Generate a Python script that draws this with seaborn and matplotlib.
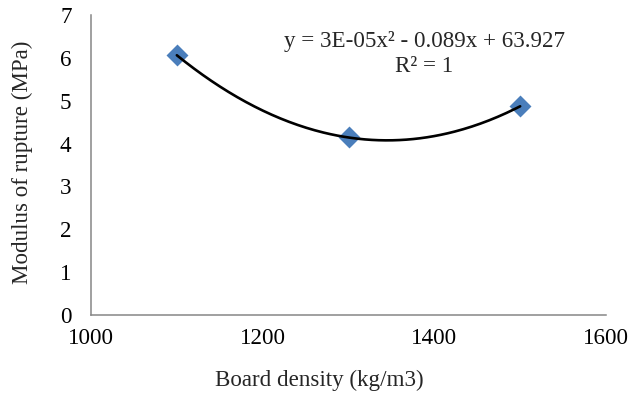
import numpy as np
import pandas as pd
import matplotlib
matplotlib.use("Agg")
import matplotlib.pyplot as plt
import seaborn as sns

# Board density vs modulus of rupture
density = [1100, 1300, 1500]
mor = [6.061, 4.142, 4.870]
x_ticks = [1000, 1200, 1400, 1600]
y_ticks = [0, 1, 2, 3, 4, 5, 6, 7]
equation = "y = 3E-05x\u00b2 - 0.089x + 63.927"
r_squared = "R\u00b2 = 1"

sns.set_theme(style="white")
plt.rcParams["font.family"] = ["Liberation Serif", "DejaVu Serif"]
FS = 16.6

df = pd.DataFrame({"density": density, "mor": mor})

# second-order polynomial trendline through the measurements
coef = np.polyfit(df["density"], df["mor"], 2)
xs = np.linspace(min(density), max(density), 200)
trend = pd.DataFrame({"density": xs, "mor": np.polyval(coef, xs)})

fig = plt.figure(figsize=(6.32, 3.96), dpi=100)
ax = fig.add_axes([91 / 632, 81 / 396, 515 / 632, 300 / 396])

sns.lineplot(data=trend, x="density", y="mor", ax=ax, color="black",
             linewidth=1.9, zorder=3)
sns.scatterplot(data=df, x="density", y="mor", ax=ax, marker="D", s=125,
                color="#4A7EBB", edgecolor="#4A7EBB", linewidth=0, zorder=2)

ax.set_xlim(1000, 1600)
ax.set_ylim(0, 7)
ax.set_xticks(x_ticks)
ax.set_yticks(y_ticks)
ax.tick_params(axis="both", length=0, labelsize=FS, colors="black")
ax.tick_params(axis="x", pad=9)
ax.tick_params(axis="y", pad=14)

for side in ("top", "right"):
    ax.spines[side].set_visible(False)
for side in ("left", "bottom"):
    ax.spines[side].set_color("#868686")
    ax.spines[side].set_linewidth(1.1)

ax.set_xlabel("")
ax.set_ylabel("")
fig.text(319 / 632, 1 - 380 / 396, "Board density (kg/m3)", ha="center",
         va="center", fontsize=FS)
fig.text(22 / 632, 1 - 162 / 396, "Modulus of rupture (MPa)", ha="center",
         va="center", rotation=90, fontsize=FS)

fig.text(424 / 632, 1 - 42 / 396, equation, ha="center", va="center",
         fontsize=FS)
fig.text(424 / 632, 1 - 67 / 396, r_squared, ha="center", va="center",
         fontsize=FS)

fig.savefig("out.png", dpi=100, facecolor="white")
